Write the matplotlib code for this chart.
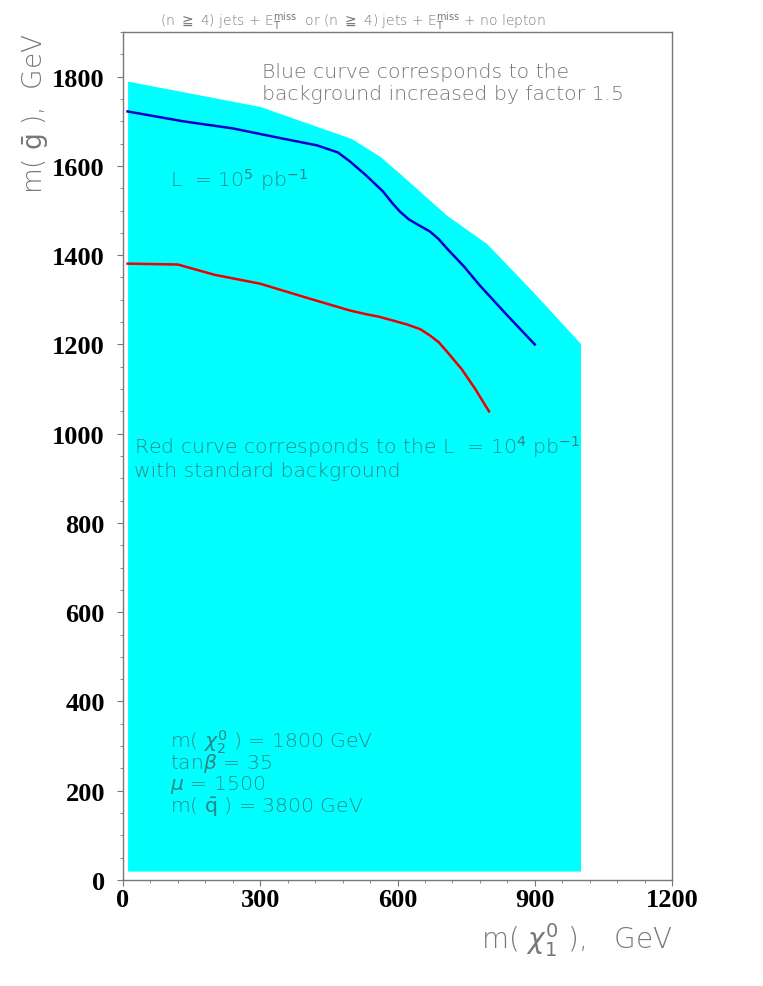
import matplotlib
matplotlib.use("Agg")
import matplotlib.pyplot as plt

# cyan band (upper edge)
band_x = [10, 300, 500, 562, 605, 708, 795, 896, 1000]
band_top = [1790, 1733, 1661, 1621, 1583, 1489, 1426, 1318, 1202]
band_bottom = 20

# blue curve: L = 10^5 pb^-1, background x 1.5
blue_x = [10, 131, 240, 350, 424, 470, 496, 530, 568, 590, 605, 625, 645, 671, 690, 708, 745, 780, 840, 900]
blue_y = [1722, 1700, 1684, 1661, 1646, 1630, 1610, 1580, 1543, 1515, 1498, 1480, 1468, 1453, 1436, 1415, 1375, 1332, 1265, 1200]

# red curve: L = 10^4 pb^-1, standard background
red_x = [10, 120, 200, 300, 400, 496, 530, 560, 620, 650, 671, 690, 708, 740, 770, 800]
red_y = [1381, 1379, 1356, 1336, 1305, 1276, 1268, 1262, 1245, 1234, 1220, 1205, 1184, 1145, 1100, 1050]

x_ticks = [0, 300, 600, 900, 1200]
y_ticks = [0, 200, 400, 600, 800, 1000, 1200, 1400, 1600, 1800]

gray = "#777777"
teal = "#2f8585"
txt = dict(family="DejaVu Sans", fontweight="light")
fs = 14.7

fig = plt.figure(figsize=(7.63, 9.87), dpi=100)
ax = fig.add_axes([123 / 763, 106 / 987, 549 / 763, 848 / 987])

ax.fill_between(band_x, band_bottom, band_top, color="#00ffff", linewidth=0)
ax.plot(blue_x, blue_y, color="#0000cc", linewidth=1.8)
ax.plot(red_x, red_y, color="#ee0000", linewidth=1.8)

ax.set_xlim(0, 1200)
ax.set_ylim(0, 1900)
ax.set_xticks(x_ticks)
ax.set_yticks(y_ticks)
ax.set_xticks(range(0, 1201, 60), minor=True)
ax.set_yticks(range(0, 1901, 50), minor=True)
for s in ax.spines.values():
    s.set_color(gray)
    s.set_linewidth(1.0)
ax.tick_params(which="both", color=gray, direction="out")
ax.tick_params(which="major", length=4)
ax.tick_params(which="minor", length=2.5)
ax.tick_params(axis="x", pad=2)
ax.tick_params(axis="y", pad=9)
for lab in ax.get_xticklabels() + ax.get_yticklabels():
    lab.set_family("Liberation Serif")
    lab.set_fontweight("bold")
    lab.set_fontsize(19)


def put(x, y, s, **kw):
    fig.text(x / 763, 1 - y / 987, s, **kw)


# title
put(353, 21,
    r"(n $\geqq$ 4) jets + E$_\mathrm{T}^\mathrm{miss}$  or (n $\geqq$ 4) jets + E$_\mathrm{T}^\mathrm{miss}$ + no lepton",
    ha="center", va="center", fontsize=10, color=gray, **txt)

# axis labels
put(672, 940, r"m( $\chi_1^0$ ),   GeV", ha="right", va="center", fontsize=20, color=gray, **txt)
fig.text(36 / 763, 1 - 33 / 987, r"m( $\bar{\mathrm{g}}$ ),  GeV", rotation=90,
         ha="center", va="top", fontsize=19, color=gray, **txt)

# annotations
put(262, 72, "Blue curve corresponds to the", ha="left", va="center", fontsize=fs, color=gray, **txt)
put(262, 95, "background increased by factor 1.5", ha="left", va="center", fontsize=fs, color=gray, **txt)
put(170, 180, r"L  = 10$^5$ pb$^{-1}$", ha="left", va="center", fontsize=fs, color=teal, **txt)
put(134, 447, "Red curve corresponds to the L  = 10$^4$ pb$^{-1}$",
    ha="left", va="center", fontsize=fs, color=teal, **txt)
put(134, 472, "with standard background", ha="left", va="center", fontsize=fs, color=teal, **txt)

params = ["m( $\\chi_2^0$ ) = 1800 GeV", "tan$\\beta$ = 35", "$\\mu$ = 1500",
          "m( $\\bar{\\mathrm{q}}$ ) = 3800 GeV"]
for i, line in enumerate(params):
    put(170, 742 + 21.7 * i, line, ha="left", va="center", fontsize=fs, color=teal, **txt)

fig.savefig("out.png", dpi=100)
